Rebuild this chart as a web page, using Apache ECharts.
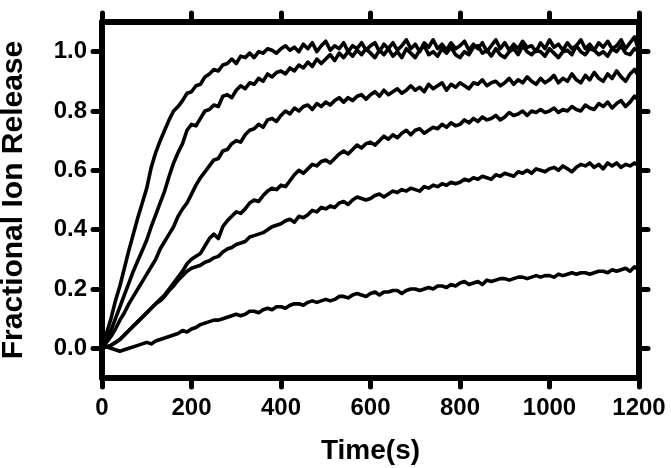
<!DOCTYPE html>
<html>
<head>
<meta charset="utf-8">
<script src="https://cdn.jsdelivr.net/npm/echarts@6/dist/echarts.min.js"></script>
<style>
html,body{margin:0;padding:0;background:#fff;}
#chart{width:671px;height:468px;}
</style>
</head>
<body>
<div id="chart"></div>
<script>
var times = [0,10,20,30,40,50,60,70,80,90,100,110,120,130,140,150,160,170,180,190,
  200,210,220,230,240,250,260,270,280,290,300,310,320,330,340,350,360,370,380,390,
  400,410,420,430,440,450,460,470,480,490,500,510,520,530,540,550,560,570,580,590,
  600,610,620,630,640,650,660,670,680,690,700,710,720,730,740,750,760,770,780,790,
  800,810,820,830,840,850,860,870,880,890,900,910,920,930,940,950,960,970,980,990,
  1000,1010,1020,1030,1040,1050,1060,1070,1080,1090,1100,1110,1120,1130,1140,1150,1160,1170,1180,1190,
  1200];

var curveA = [0.00,0.05,0.10,0.16,0.21,0.27,0.33,0.385,0.44,0.49,0.54,0.61,0.66,0.70,0.735,0.77,0.80,0.815,0.835,0.86,
  0.865,0.885,0.89,0.915,0.925,0.94,0.935,0.955,0.96,0.975,0.96,0.985,0.98,0.995,0.98,1.00,0.995,1.01,1.005,0.995,
  1.01,1.02,1.005,1.015,1.00,1.025,1.01,1.03,1.00,1.02,1.035,1.005,1.02,1.01,1.03,1.00,1.02,1.01,1.03,1.005,
  1.02,1.03,1.00,1.025,1.01,1.03,1.005,1.02,1.04,1.01,1.025,1.00,1.03,1.015,1.04,1.01,1.025,1.005,1.03,1.01,
  1.02,1.035,1.005,1.025,1.01,1.03,1.00,1.02,1.04,1.01,1.03,1.005,1.025,1.01,1.035,1.015,1.02,1.00,1.03,1.01,
  1.04,1.015,1.025,1.005,1.03,1.01,1.02,1.04,1.01,1.025,1.005,1.03,1.015,1.035,1.01,1.02,1.04,1.01,1.03,1.05,
  1.00];

var curveB = [0.00,0.03,0.06,0.10,0.14,0.18,0.22,0.26,0.295,0.33,0.365,0.41,0.45,0.49,0.53,0.58,0.625,0.66,0.69,0.735,
  0.755,0.75,0.775,0.80,0.805,0.82,0.815,0.85,0.855,0.845,0.87,0.885,0.875,0.895,0.89,0.91,0.90,0.925,0.915,0.93,
  0.935,0.925,0.945,0.935,0.955,0.945,0.965,0.95,0.975,0.96,0.975,0.99,0.97,0.995,0.98,1.00,0.985,1.005,0.99,1.01,
  0.995,0.98,1.005,0.99,1.01,0.985,1.00,0.98,1.01,0.995,0.98,1.005,1.02,0.99,1.00,0.985,1.01,0.995,1.015,0.99,
  0.98,1.00,0.99,1.015,1.02,0.995,1.005,0.985,1.01,0.99,0.98,1.00,1.01,0.99,1.02,1.00,0.99,1.005,1.00,0.985,
  1.01,0.995,0.98,1.00,1.005,0.99,1.02,1.00,0.99,1.01,1.005,0.99,1.00,0.985,1.01,1.00,1.02,0.995,0.99,1.01,
  1.00];

var curveC = [0.00,0.02,0.04,0.065,0.095,0.12,0.15,0.175,0.20,0.225,0.25,0.275,0.30,0.335,0.36,0.385,0.41,0.445,0.47,0.49,
  0.52,0.55,0.575,0.595,0.615,0.635,0.64,0.665,0.67,0.69,0.70,0.695,0.72,0.735,0.74,0.755,0.745,0.77,0.775,0.765,
  0.785,0.80,0.79,0.81,0.80,0.815,0.82,0.805,0.825,0.815,0.83,0.82,0.835,0.845,0.83,0.845,0.835,0.85,0.855,0.84,
  0.855,0.865,0.85,0.87,0.855,0.865,0.875,0.86,0.87,0.885,0.87,0.88,0.865,0.89,0.875,0.885,0.895,0.87,0.89,0.88,
  0.895,0.885,0.875,0.895,0.89,0.905,0.885,0.895,0.90,0.885,0.895,0.91,0.89,0.905,0.895,0.915,0.90,0.89,0.91,0.895,
  0.905,0.92,0.895,0.91,0.90,0.925,0.905,0.895,0.92,0.905,0.93,0.91,0.90,0.925,0.91,0.935,0.915,0.90,0.925,0.94,
  0.915];

var curveD = [0.00,0.005,0.01,0.02,0.03,0.045,0.06,0.075,0.09,0.105,0.12,0.135,0.15,0.165,0.18,0.20,0.22,0.24,0.26,0.285,
  0.30,0.31,0.32,0.345,0.37,0.385,0.37,0.41,0.43,0.445,0.46,0.455,0.47,0.49,0.50,0.495,0.515,0.53,0.54,0.535,
  0.55,0.545,0.565,0.585,0.60,0.59,0.605,0.62,0.615,0.63,0.635,0.625,0.64,0.655,0.665,0.655,0.67,0.685,0.675,0.69,
  0.695,0.685,0.70,0.715,0.705,0.72,0.71,0.725,0.735,0.72,0.735,0.74,0.725,0.735,0.745,0.74,0.755,0.745,0.76,0.75,
  0.755,0.77,0.76,0.775,0.765,0.78,0.77,0.775,0.785,0.77,0.78,0.795,0.785,0.79,0.80,0.785,0.80,0.795,0.805,0.795,
  0.80,0.81,0.795,0.805,0.80,0.815,0.805,0.80,0.82,0.81,0.805,0.825,0.815,0.83,0.81,0.825,0.835,0.815,0.83,0.85,
  0.835];

var curveE = [0.00,0.005,0.01,0.02,0.03,0.045,0.06,0.075,0.09,0.105,0.12,0.135,0.15,0.16,0.175,0.195,0.21,0.23,0.245,0.26,
  0.27,0.275,0.28,0.29,0.295,0.305,0.31,0.325,0.335,0.34,0.35,0.355,0.36,0.375,0.38,0.385,0.39,0.40,0.41,0.415,
  0.42,0.43,0.435,0.425,0.445,0.44,0.45,0.465,0.46,0.475,0.47,0.48,0.475,0.49,0.495,0.485,0.50,0.51,0.505,0.50,
  0.505,0.515,0.52,0.51,0.52,0.53,0.525,0.535,0.53,0.54,0.535,0.53,0.545,0.54,0.55,0.545,0.555,0.55,0.56,0.555,
  0.56,0.57,0.565,0.575,0.57,0.58,0.575,0.57,0.585,0.58,0.59,0.585,0.58,0.595,0.59,0.60,0.59,0.605,0.60,0.595,
  0.605,0.61,0.60,0.615,0.605,0.595,0.61,0.62,0.615,0.625,0.61,0.62,0.605,0.625,0.615,0.625,0.61,0.62,0.615,0.625,
  0.615];

var curveF = [0.00,0.005,0.00,-0.005,-0.01,-0.005,0.00,0.005,0.01,0.015,0.02,0.015,0.025,0.03,0.035,0.04,0.045,0.05,0.06,0.055,
  0.065,0.07,0.08,0.085,0.09,0.095,0.095,0.10,0.105,0.11,0.115,0.11,0.115,0.125,0.125,0.12,0.13,0.135,0.13,0.14,
  0.14,0.135,0.145,0.15,0.15,0.145,0.155,0.16,0.155,0.16,0.165,0.16,0.165,0.175,0.175,0.17,0.18,0.185,0.18,0.175,
  0.185,0.19,0.18,0.19,0.19,0.195,0.195,0.185,0.195,0.20,0.20,0.195,0.20,0.205,0.20,0.21,0.21,0.205,0.215,0.21,
  0.22,0.225,0.215,0.22,0.225,0.215,0.23,0.225,0.23,0.235,0.235,0.23,0.235,0.24,0.24,0.235,0.24,0.245,0.24,0.245,
  0.245,0.24,0.25,0.245,0.25,0.255,0.25,0.255,0.255,0.25,0.255,0.26,0.26,0.255,0.265,0.26,0.265,0.27,0.26,0.275,
  0.265];

var yTicks = [0, 0.2, 0.4, 0.6, 0.8, 1.0];
var xTitle = 'Time(s)';
var yTitle = 'Fractional Ion Release';

var allCurves = [curveA, curveB, curveC, curveD, curveE, curveF];

function pairs(arr) {
  return arr.map(function (v, i) { return [times[i], v]; });
}

var FONT = '"Liberation Sans", Arial, sans-serif';
var axisLineStyle = { color: '#000', width: 6, cap: 'round' };
var tickStyle = { color: '#000', width: 5, cap: 'round' };

var chart = echarts.init(document.getElementById('chart'));
chart.setOption({
  animation: false,
  backgroundColor: '#fff',
  grid: { left: 102, right: 32, top: 22, bottom: 90, containLabel: false, outerBoundsMode: 'none' },
  xAxis: [{
    type: 'value', min: 0, max: 1200, interval: 200, position: 'bottom',
    name: xTitle, nameLocation: 'middle', nameGap: 59,
    nameTextStyle: { fontFamily: FONT, fontWeight: 'bold', fontSize: 28, color: '#000' },
    axisLine: { show: true, onZero: false, lineStyle: axisLineStyle },
    axisTick: { show: true, inside: false, length: 9, lineStyle: tickStyle },
    axisLabel: { show: true, margin: 18, fontFamily: FONT, fontWeight: 'bold', fontSize: 24, color: '#000',
      formatter: function (v) { return String(v); } },
    splitLine: { show: false }
  }, {
    type: 'value', min: 0, max: 1200, interval: 200, position: 'top',
    axisLine: { show: true, onZero: false, lineStyle: axisLineStyle },
    axisTick: { show: true, inside: false, length: 9, lineStyle: tickStyle },
    axisLabel: { show: false },
    splitLine: { show: false }
  }],
  yAxis: [{
    type: 'value', min: -0.1, max: 1.1, position: 'left',
    name: yTitle, nameLocation: 'middle', nameGap: 73, nameRotate: 90,
    nameTextStyle: { fontFamily: FONT, fontWeight: 'bold', fontSize: 30, color: '#000' },
    axisLine: { show: true, onZero: false, lineStyle: axisLineStyle },
    axisTick: { show: true, inside: false, length: 9, lineStyle: tickStyle, customValues: yTicks },
    axisLabel: { show: true, margin: 15, fontFamily: FONT, fontWeight: 'bold', fontSize: 24, color: '#000',
      customValues: yTicks, formatter: function (v) { return v.toFixed(1); } },
    splitLine: { show: false }
  }, {
    type: 'value', min: -0.1, max: 1.1, position: 'right',
    axisLine: { show: true, onZero: false, lineStyle: axisLineStyle },
    axisTick: { show: true, inside: false, length: 9, lineStyle: tickStyle, customValues: yTicks },
    axisLabel: { show: false, customValues: yTicks },
    splitLine: { show: false }
  }],
  series: allCurves.map(function (c) {
    return {
      type: 'line', xAxisIndex: 0, yAxisIndex: 0,
      data: pairs(c), showSymbol: false, symbol: 'none',
      lineStyle: { color: '#000', width: 3.6, join: 'round' },
      z: 1
    };
  })
});
</script>
</body>
</html>
